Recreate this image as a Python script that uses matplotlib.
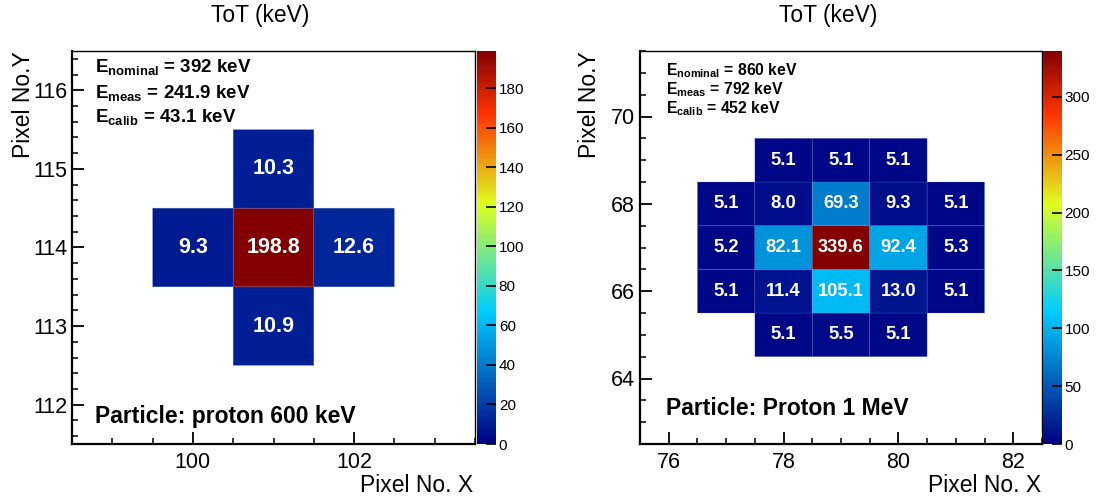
import numpy as np
import matplotlib
matplotlib.use('Agg')
import matplotlib.pyplot as plt
from matplotlib.colors import LinearSegmentedColormap
from matplotlib.ticker import MultipleLocator

plt.rcParams['font.family'] = ['Liberation Sans', 'DejaVu Sans']
plt.rcParams['mathtext.fontset'] = 'custom'
plt.rcParams['mathtext.rm'] = 'Liberation Sans'
plt.rcParams['mathtext.bf'] = 'Liberation Sans:bold'
plt.rcParams['mathtext.it'] = 'Liberation Sans:italic'

# Panel 1: proton 600 keV
p1_x = [101, 100, 101, 102, 101]
p1_y = [115, 114, 114, 114, 113]
p1_tot = [10.3, 9.3, 198.8, 12.6, 10.9]
p1_energies = ['392', '241.9', '43.1']
p1_particle = 'Particle: proton 600 keV'
p1_xlim = (98.5, 103.5)
p1_ylim = (111.5, 116.5)
p1_cticks = [0, 20, 40, 60, 80, 100, 120, 140, 160, 180]

# Panel 2: proton 1 MeV
p2_x = [78, 79, 80,
        77, 78, 79, 80, 81,
        77, 78, 79, 80, 81,
        77, 78, 79, 80, 81,
        78, 79, 80]
p2_y = [69] * 3 + [68] * 5 + [67] * 5 + [66] * 5 + [65] * 3
p2_tot = [5.1, 5.1, 5.1,
          5.1, 8.0, 69.3, 9.3, 5.1,
          5.2, 82.1, 339.6, 92.4, 5.3,
          5.1, 11.4, 105.1, 13.0, 5.1,
          5.1, 5.5, 5.1]
p2_energies = ['860', '792', '452']
p2_particle = 'Particle: Proton 1 MeV'
p2_xlim = (75.5, 82.5)
p2_ylim = (62.5, 71.5)
p2_cticks = [0, 50, 100, 150, 200, 250, 300]

e_names = ['nominal', 'meas', 'calib']

# ROOT style rainbow palette
stops = [0.00, 0.34, 0.61, 0.84, 1.00]
red = [0.00, 0.00, 0.87, 1.00, 0.51]
green = [0.00, 0.81, 1.00, 0.20, 0.00]
blue = [0.51, 1.00, 0.12, 0.00, 0.00]
cmap = LinearSegmentedColormap.from_list(
    'root', [(s, (r, g, b)) for s, r, g, b in zip(stops, red, green, blue)], N=255)

W, H = 1099, 499


def fx(x):
    return x / W


def fy(y):
    return 1 - y / H


fig = plt.figure(figsize=(W / 100, H / 100), dpi=100)

ax_bot, ax_h = fy(444), (444 - 51) / H
ax1 = fig.add_axes([fx(72), ax_bot, 403 / W, ax_h])
cax1 = fig.add_axes([fx(476.5), ax_bot, 19.5 / W, ax_h])
ax2 = fig.add_axes([fx(640), ax_bot, 402 / W, ax_h])
cax2 = fig.add_axes([fx(1042.7), ax_bot, 19 / W, ax_h])


def draw_panel(ax, cax, xs, ys, vals, xlim, ylim, xmaj, ymaj, ymin, cticks, valsize):
    xe = np.arange(xlim[0], xlim[1] + 0.5)
    ye = np.arange(ylim[0], ylim[1] + 0.5)
    z = np.full((len(ye) - 1, len(xe) - 1), np.nan)
    for x, y, v in zip(xs, ys, vals):
        z[int(y - ylim[0] - 0.5), int(x - xlim[0] - 0.5)] = v
    z = np.ma.masked_invalid(z)
    vmax = max(vals)
    m = ax.pcolor(xe, ye, z, cmap=cmap, vmin=0, vmax=vmax,
                  edgecolors=(0.45, 0.55, 0.9, 0.22), linewidth=0.6)
    for x, y, v in zip(xs, ys, vals):
        ax.text(x, y, f'{v:.1f}', color='white', fontsize=valsize,
                fontweight='bold', ha='center', va='center')
    ax.set_xlim(xlim)
    ax.set_ylim(ylim)
    ax.xaxis.set_major_locator(MultipleLocator(xmaj))
    ax.xaxis.set_minor_locator(MultipleLocator(0.5))
    ax.yaxis.set_major_locator(MultipleLocator(ymaj))
    ax.yaxis.set_minor_locator(MultipleLocator(ymin))
    ax.tick_params(which='both', direction='in', top=False, right=False)
    ax.tick_params(which='major', length=8.5, width=1.3, labelsize=15.5)
    ax.tick_params(which='minor', length=4, width=1.1)
    ax.tick_params(axis='x', pad=6)
    ax.tick_params(axis='y', pad=3.5)
    for side in ['left', 'bottom']:
        ax.spines[side].set_linewidth(1.6)
    for side in ['top', 'right']:
        ax.spines[side].set_linewidth(1.0)

    cb = fig.colorbar(m, cax=cax)
    cb.outline.set_visible(False)
    cb.set_ticks(cticks)
    cax.tick_params(direction='in', length=7, width=1.2, labelsize=11, pad=2,
                    right=True, left=False)
    cax.minorticks_off()


draw_panel(ax1, cax1, p1_x, p1_y, p1_tot, p1_xlim, p1_ylim, 2, 1, 0.2, p1_cticks, 15.5)
draw_panel(ax2, cax2, p2_x, p2_y, p2_tot, p2_xlim, p2_ylim, 2, 2, 0.5, p2_cticks, 13.2)

# titles and axis labels
for cx, ylx, xlx in [(260.6, 11.5, 473.5), (828, 578, 1041)]:
    fig.text(fx(cx), fy(22), 'ToT (keV)', fontsize=16.5, ha='center', va='baseline')
    fig.text(fx(ylx), fy(51), 'Pixel No.Y', fontsize=16.5, rotation=90,
             ha='left', va='top')
    fig.text(fx(xlx), fy(492.5), 'Pixel No. X', fontsize=16.5, ha='right', va='baseline')

# energy annotations
for x0, bases, size, energies in [(95.3, [72.3, 97.7, 121.7], 13.5, p1_energies),
                                  (666, [75, 94.3, 113.3], 11.3, p2_energies)]:
    for name, val, b in zip(e_names, energies, bases):
        fig.text(fx(x0), fy(b), r'$\mathbf{E_{%s}}$ = %s keV' % (name, val),
                 fontsize=size, fontweight='bold', ha='left', va='baseline')

fig.text(fx(95.3), fy(422.7), p1_particle, fontsize=16.5, fontweight='bold',
         ha='left', va='baseline')
fig.text(fx(666), fy(415), p2_particle, fontsize=16.5, fontweight='bold',
         ha='left', va='baseline')

fig.savefig('out.png', dpi=100)
